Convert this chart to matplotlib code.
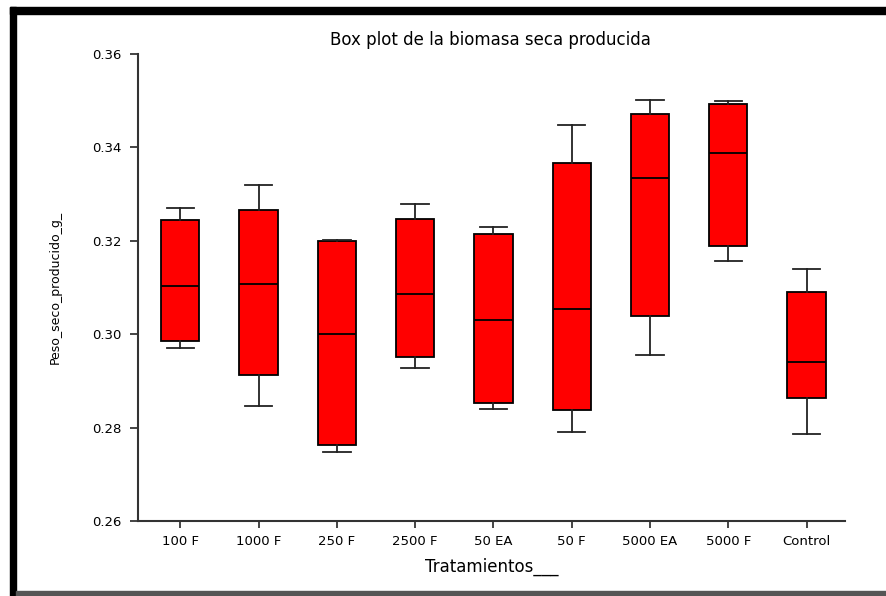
import matplotlib
matplotlib.use("Agg")
import matplotlib.pyplot as plt
from matplotlib.patches import Rectangle

# Tratamientos y estadisticos de cada caja (peso seco, g)
tratamientos = ["100 F", "1000 F", "250 F", "2500 F", "50 EA", "50 F",
                "5000 EA", "5000 F", "Control"]
minimo = [0.2970, 0.2847, 0.2748, 0.2928, 0.2840, 0.2790, 0.2955, 0.3157, 0.2786]
q1 = [0.2986, 0.2912, 0.2763, 0.2952, 0.2852, 0.2838, 0.3039, 0.3189, 0.2863]
mediana = [0.3103, 0.3108, 0.3000, 0.3087, 0.3030, 0.3053, 0.3335, 0.3387, 0.2940]
q3 = [0.3245, 0.3265, 0.3200, 0.3247, 0.3215, 0.3367, 0.3472, 0.3494, 0.3090]
maximo = [0.3270, 0.3319, 0.3202, 0.3279, 0.3230, 0.3449, 0.3502, 0.3499, 0.3140]
yticks = [0.26, 0.28, 0.30, 0.32, 0.34, 0.36]

stats = []
for i in range(len(tratamientos)):
    stats.append(dict(label=tratamientos[i], whislo=minimo[i], q1=q1[i],
                      med=mediana[i], q3=q3[i], whishi=maximo[i], fliers=[]))

fig = plt.figure(figsize=(8.87, 5.96), dpi=100)
ax = fig.add_axes([0.1556, 0.1258, 0.797, 0.7836])

ax.bxp(stats, positions=range(len(stats)), widths=0.49, capwidths=0.35,
       patch_artist=True, showfliers=False,
       boxprops=dict(facecolor="#ff0000", edgecolor="black", linewidth=1.3),
       medianprops=dict(color="black", linewidth=1.3),
       whiskerprops=dict(color="#222222", linewidth=1.3),
       capprops=dict(color="#222222", linewidth=1.3))

ax.set_xlim(-0.54, 8.49)
ax.set_ylim(0.26, 0.36)
ax.set_yticks(yticks)
ax.set_yticklabels(["%.2f" % v for v in yticks])
ax.spines["top"].set_visible(False)
ax.spines["right"].set_visible(False)
for s in ("left", "bottom"):
    ax.spines[s].set_color("#333333")
    ax.spines[s].set_linewidth(1.5)
ax.tick_params(axis="both", direction="out", length=6, width=1.4,
               color="#444444", labelsize=9.5, pad=6)
ax.tick_params(axis="x", length=5, pad=5)

ax.set_ylabel("Peso_seco_producido_g_", fontsize=9, labelpad=22)
ax.set_xlabel("Tratamientos___", fontsize=12, labelpad=7)
fig.text(0.553, 0.933, "Box plot de la biomasa seca producida",
         ha="center", va="center", fontsize=12)

# marco exterior
fig.patches.append(Rectangle((10 / 887, 0), 6 / 887, 589 / 596,
                             transform=fig.transFigure, color="black"))
fig.patches.append(Rectangle((10 / 887, 582 / 596), 877 / 887, 7 / 596,
                             transform=fig.transFigure, color="black"))
fig.patches.append(Rectangle((16 / 887, 0), 871 / 887, 5 / 596,
                             transform=fig.transFigure, color="#555555"))

fig.savefig("out.png", dpi=100)
